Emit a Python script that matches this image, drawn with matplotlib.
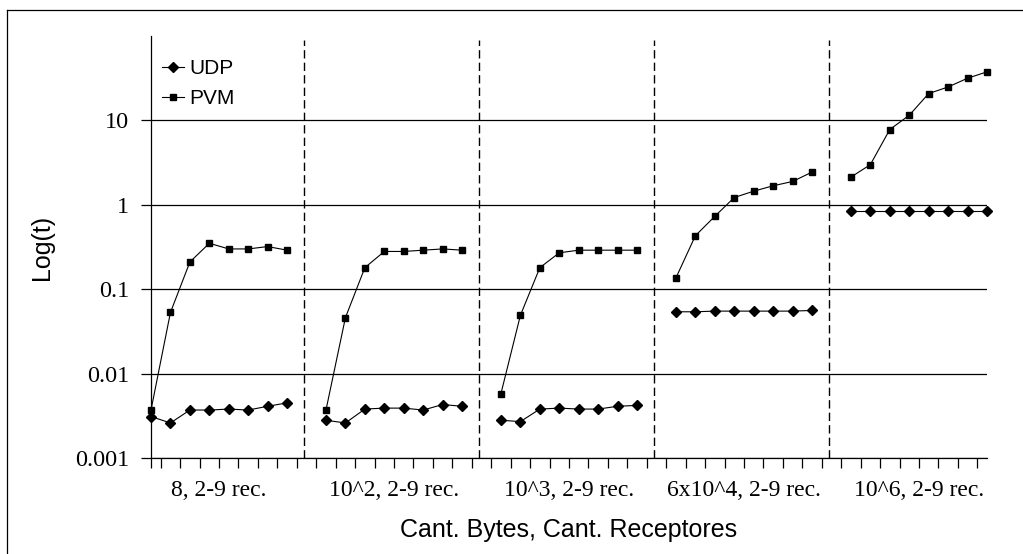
from matplotlib import pyplot as plt
from matplotlib.lines import Line2D

# tiempos por grupo (bytes enviados), 2 a 9 receptores
group_labels = ['8, 2-9 rec.', '10^2, 2-9 rec.', '10^3, 2-9 rec.',
                '6x10^4, 2-9 rec.', '10^6, 2-9 rec.']

udp_8 = [0.0031, 0.0026, 0.0037, 0.0037, 0.0038, 0.0037, 0.0041, 0.0045]
pvm_8 = [0.0037, 0.053, 0.21, 0.35, 0.30, 0.30, 0.32, 0.29]

udp_1e2 = [0.0028, 0.0026, 0.0038, 0.0039, 0.0039, 0.0037, 0.0043, 0.0041]
pvm_1e2 = [0.0037, 0.046, 0.18, 0.28, 0.28, 0.29, 0.30, 0.29]

udp_1e3 = [0.0028, 0.0027, 0.0038, 0.0039, 0.0038, 0.0038, 0.0041, 0.0042]
pvm_1e3 = [0.0058, 0.049, 0.18, 0.27, 0.29, 0.29, 0.29, 0.29]

udp_6e4 = [0.054, 0.054, 0.055, 0.055, 0.055, 0.055, 0.055, 0.056]
pvm_6e4 = [0.136, 0.43, 0.73, 1.22, 1.45, 1.68, 1.89, 2.44]

udp_1e6 = [0.85, 0.85, 0.85, 0.85, 0.85, 0.85, 0.85, 0.85]
pvm_1e6 = [2.13, 2.99, 7.8, 11.5, 20.8, 24.9, 31.6, 37.6]

udp = [udp_8, udp_1e2, udp_1e3, udp_6e4, udp_1e6]
pvm = [pvm_8, pvm_1e2, pvm_1e3, pvm_6e4, pvm_1e6]

n_rec = 8          # puntos por grupo
step = n_rec + 1   # una categoria vacia entre grupos

sans = 'Liberation Sans'
serif = 'Liberation Serif'

fig = plt.figure(figsize=(10.23, 5.54), dpi=100)
ax = fig.add_axes([151 / 1023, 96 / 554, 836 / 1023, 422 / 554])

for k in range(len(group_labels)):
    x = [k * step + i for i in range(n_rec)]
    ax.plot(x, udp[k], color='black', lw=0.8, marker='D', ms=5,
            clip_on=False, zorder=4, label='UDP' if k == 0 else None)
    ax.plot(x, pvm[k], color='black', lw=0.8, marker='s', ms=5,
            clip_on=False, zorder=4, label='PVM' if k == 0 else None)
    if k > 0:
        ax.axvline(k * step - 1 - 0.15, ymax=0.99, color='black', lw=1,
                   ls=(0, (6, 3)), zorder=2)

ax.set_yscale('log')
ax.set_ylim(0.001, 100)
ax.set_xlim(0, len(group_labels) * step - 2)

ax.set_yticks([0.001, 0.01, 0.1, 1, 10])
ax.set_yticklabels(['0.001', '0.01', '0.1', '1', '10'])
ax.minorticks_off()
ax.grid(axis='y', color='black', lw=0.9, zorder=1)

# marcas entre categorias y nombres de grupo debajo
ticks = [0] + [i + 0.5 for i in range(len(group_labels) * step - 2)]
ax.set_xticks(ticks)
ax.set_xticklabels([])
ax.xaxis.remove_overlapping_locs = False
ax.set_xticks([k * step + (n_rec - 1) / 2 for k in range(len(group_labels))],
              minor=True)
ax.set_xticklabels(group_labels, minor=True, fontfamily=serif, fontsize=17)
ax.tick_params(axis='x', which='major', direction='out', length=7.5,
               width=0.9, color='black')
ax.tick_params(axis='x', which='minor', length=0, pad=16)
ax.tick_params(axis='y', direction='out', length=7.5, width=0.9, pad=8)
for lab in ax.get_yticklabels():
    lab.set_fontfamily(serif)
    lab.set_fontsize(17.5)

ax.spines['top'].set_visible(False)
ax.spines['right'].set_visible(False)
ax.spines['left'].set_linewidth(0.9)
ax.spines['bottom'].set_linewidth(0.9)

ax.set_ylabel('Log(t)', fontfamily=sans, fontsize=18)
ax.yaxis.set_label_coords(54 / 1023, 307 / 554, transform=fig.transFigure)
ax.set_xlabel('Cant. Bytes, Cant. Receptores', fontfamily=sans, fontsize=18)
ax.xaxis.set_label_coords(569 / 1023, 36 / 554, transform=fig.transFigure)

ax.legend(loc='upper left', bbox_to_anchor=(11 / 836, 399 / 422),
          frameon=False, prop={'family': sans, 'size': 15},
          handlelength=1.05, handletextpad=0.25, labelspacing=0.55,
          borderpad=0, borderaxespad=0)

# marco del grafico
fig.add_artist(Line2D([7 / 1023, 7 / 1023], [0, 1 - 10 / 554],
                      transform=fig.transFigure, color='black', lw=0.9))
fig.add_artist(Line2D([7 / 1023, 1], [1 - 10 / 554, 1 - 10 / 554],
                      transform=fig.transFigure, color='black', lw=0.9))

fig.savefig('out.png', dpi=100)
